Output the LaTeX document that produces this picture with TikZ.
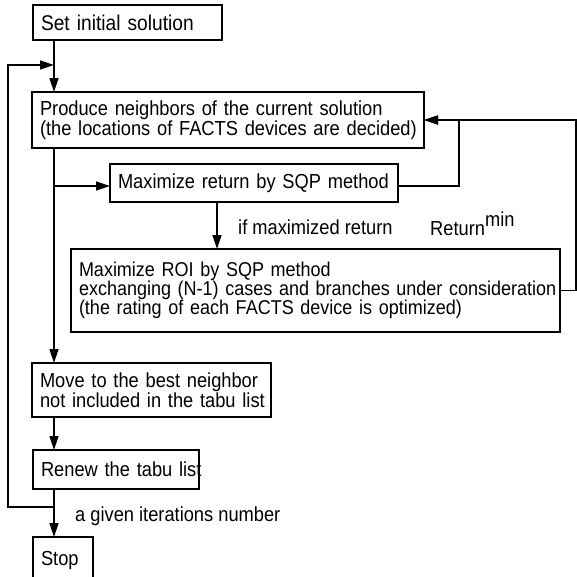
\documentclass[tikz,border=0pt]{standalone}
\usepackage{fontspec}
\setmainfont{Liberation Sans}[FakeStretch=0.9]
\usetikzlibrary{arrows.meta}

\tikzset{
  stepbox/.style={draw, line width=1.5pt, anchor=north west, align=left,
    inner xsep=8pt, inner ysep=0pt, outer sep=0pt},
  flow/.style={line width=1.5pt},
  back/.style={line width=1.2pt},
  note/.style={anchor=base west, inner sep=0pt}
}

\begin{document}
\begin{tikzpicture}[x=1pt, y=1pt, >={Triangle[length=14pt,width=9pt]},
    every node/.style={font=\fontsize{20.3}{19.8}\selectfont}]
  \useasboundingbox (0,0) rectangle (577,-576);
  % boxes
  \node[stepbox, text width=173, minimum height=35, font=\fontsize{21.3}{20}\selectfont] (init) at (33,-5) {Set initial solution};
  \node[stepbox, text width=376, minimum height=56] (prod) at (32,-92)
    {Produce neighbors of the current solution\\\mbox{(the locations of FACTS devices are decided)}};
  \node[stepbox, text width=272, minimum height=38] (maxret) at (110,-164) {Maximize return by SQP method};
  \node[stepbox, text width=473, minimum height=83, font=\fontsize{20}{19}\selectfont] (roi) at (71,-249)
    {Maximize ROI by SQP method\\\mbox{exchanging (N-1) cases and branches under consideration}\\(the rating of each FACTS device is optimized)};
  \node[stepbox, text width=223, minimum height=54] (move) at (32,-363)
    {\mbox{Move to the best neighbor}\\\mbox{not included in the tabu list}};
  \node[stepbox, text width=150, minimum height=39] (renew) at (33,-450) {\mbox{Renew the tabu list}};
  \node[stepbox, text width=44, minimum height=48] (stop) at (33,-537) {Stop};
  % labels
  \node[note] (ifmax) at (238,-234) {if maximized return};
  \node[note] (retmin) at (430,-235) {Return\raisebox{9pt}{min}};
  \node[note] (iter) at (75,-521) {a given iterations number};
  % joints
  \coordinate (loopin) at (54,-65);
  \coordinate (loopout) at (54,-507);
  \coordinate (split) at (54,-186);
  \coordinate (leftrail) at (8,0);
  \coordinate (rightrail) at (576,0);
  \coordinate (upjoin) at (459,0);
  \coordinate (roidrop) at (217,0);
  % connectors
  \draw[flow, ->] (init.south -| loopin) -- (prod.north -| loopin);
  \draw[flow, ->] (loopout) -- (loopout -| leftrail) |- (loopin);
  \draw[flow, ->] (prod.south -| split) -- (move.north -| split);
  \draw[flow, ->] (split) -- (split -| maxret.west);
  \draw[flow, ->] (maxret.south -| roidrop) -- (roi.north -| roidrop);
  \draw[back, ->] (split -| maxret.east) -| (prod.east -| upjoin) -- (prod.east);
  \draw[back, ->] (roi.east) -- (roi.east -| rightrail) |- (prod.east);
  \draw[flow, ->] (move.south -| loopin) -- (renew.north -| loopin);
  \draw[flow, ->] (renew.south -| loopin) -- (stop.north -| loopin);
\end{tikzpicture}
\end{document}
